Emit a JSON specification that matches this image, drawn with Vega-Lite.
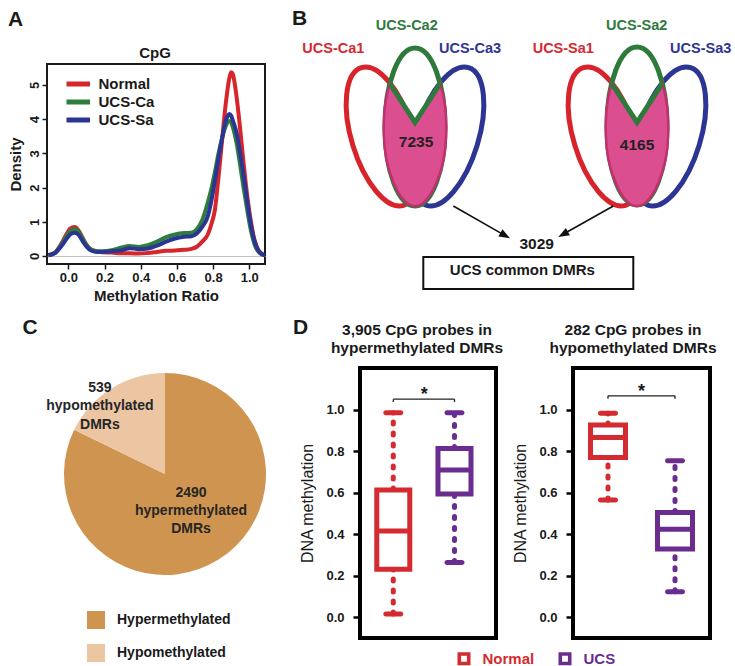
{
  "$schema": "https://vega.github.io/schema/vega-lite/v6.json",
  "background": "white",
  "padding": {"left": 6, "top": 7, "right": 0, "bottom": 0},
  "config": {
    "font": "Liberation Sans",
    "view": {"stroke": null},
    "axis": {"labelColor": "#1a1a1a", "titleColor": "#1a1a1a", "tickColor": "#1a1a1a", "labelFontWeight": "bold", "grid": false, "labelOverlap": false},
    "legend": {"labelColor": "#1a1a1a"},
    "title": {"color": "#1a1a1a"},
    "text": {"color": "#1a1a1a"}
  },
  "datasets": {
    "density": [
      {"sample":"Normal","ratio":-0.11,"density":0.02},{"sample":"Normal","ratio":-0.07,"density":0.12},{"sample":"Normal","ratio":-0.04,"density":0.35},{"sample":"Normal","ratio":-0.01,"density":0.64},{"sample":"Normal","ratio":0.01,"density":0.8},{"sample":"Normal","ratio":0.035,"density":0.85},{"sample":"Normal","ratio":0.06,"density":0.72},{"sample":"Normal","ratio":0.08,"density":0.52},{"sample":"Normal","ratio":0.1,"density":0.33},{"sample":"Normal","ratio":0.125,"density":0.19},{"sample":"Normal","ratio":0.16,"density":0.13},{"sample":"Normal","ratio":0.19,"density":0.11},{"sample":"Normal","ratio":0.24,"density":0.1},{"sample":"Normal","ratio":0.29,"density":0.08},{"sample":"Normal","ratio":0.34,"density":0.08},{"sample":"Normal","ratio":0.39,"density":0.07},{"sample":"Normal","ratio":0.44,"density":0.09},{"sample":"Normal","ratio":0.49,"density":0.12},{"sample":"Normal","ratio":0.54,"density":0.15},{"sample":"Normal","ratio":0.59,"density":0.16},{"sample":"Normal","ratio":0.64,"density":0.18},{"sample":"Normal","ratio":0.68,"density":0.21},{"sample":"Normal","ratio":0.71,"density":0.27},{"sample":"Normal","ratio":0.74,"density":0.42},{"sample":"Normal","ratio":0.77,"density":0.62},{"sample":"Normal","ratio":0.79,"density":0.92},{"sample":"Normal","ratio":0.81,"density":1.35},{"sample":"Normal","ratio":0.83,"density":2.3},{"sample":"Normal","ratio":0.85,"density":3.4},{"sample":"Normal","ratio":0.87,"density":4.45},{"sample":"Normal","ratio":0.89,"density":5.2},{"sample":"Normal","ratio":0.9,"density":5.37},{"sample":"Normal","ratio":0.91,"density":5.3},{"sample":"Normal","ratio":0.93,"density":4.65},{"sample":"Normal","ratio":0.95,"density":3.7},{"sample":"Normal","ratio":0.97,"density":2.65},{"sample":"Normal","ratio":0.99,"density":1.7},{"sample":"Normal","ratio":1.01,"density":0.98},{"sample":"Normal","ratio":1.03,"density":0.45},{"sample":"Normal","ratio":1.05,"density":0.18},{"sample":"Normal","ratio":1.07,"density":0.06},{"sample":"Normal","ratio":1.09,"density":0.02},
      {"sample":"UCS-Ca","ratio":-0.11,"density":0.02},{"sample":"UCS-Ca","ratio":-0.07,"density":0.11},{"sample":"UCS-Ca","ratio":-0.04,"density":0.32},{"sample":"UCS-Ca","ratio":-0.01,"density":0.58},{"sample":"UCS-Ca","ratio":0.01,"density":0.73},{"sample":"UCS-Ca","ratio":0.035,"density":0.78},{"sample":"UCS-Ca","ratio":0.06,"density":0.68},{"sample":"UCS-Ca","ratio":0.08,"density":0.5},{"sample":"UCS-Ca","ratio":0.1,"density":0.32},{"sample":"UCS-Ca","ratio":0.125,"density":0.19},{"sample":"UCS-Ca","ratio":0.16,"density":0.14},{"sample":"UCS-Ca","ratio":0.19,"density":0.14},{"sample":"UCS-Ca","ratio":0.24,"density":0.17},{"sample":"UCS-Ca","ratio":0.29,"density":0.24},{"sample":"UCS-Ca","ratio":0.34,"density":0.29},{"sample":"UCS-Ca","ratio":0.39,"density":0.26},{"sample":"UCS-Ca","ratio":0.44,"density":0.32},{"sample":"UCS-Ca","ratio":0.49,"density":0.42},{"sample":"UCS-Ca","ratio":0.54,"density":0.55},{"sample":"UCS-Ca","ratio":0.59,"density":0.63},{"sample":"UCS-Ca","ratio":0.64,"density":0.67},{"sample":"UCS-Ca","ratio":0.68,"density":0.68},{"sample":"UCS-Ca","ratio":0.71,"density":0.78},{"sample":"UCS-Ca","ratio":0.74,"density":1.05},{"sample":"UCS-Ca","ratio":0.77,"density":1.55},{"sample":"UCS-Ca","ratio":0.79,"density":1.95},{"sample":"UCS-Ca","ratio":0.81,"density":2.45},{"sample":"UCS-Ca","ratio":0.83,"density":3.0},{"sample":"UCS-Ca","ratio":0.85,"density":3.45},{"sample":"UCS-Ca","ratio":0.87,"density":3.8},{"sample":"UCS-Ca","ratio":0.89,"density":3.95},{"sample":"UCS-Ca","ratio":0.9,"density":3.9},{"sample":"UCS-Ca","ratio":0.91,"density":3.75},{"sample":"UCS-Ca","ratio":0.93,"density":3.3},{"sample":"UCS-Ca","ratio":0.95,"density":2.65},{"sample":"UCS-Ca","ratio":0.97,"density":1.95},{"sample":"UCS-Ca","ratio":0.99,"density":1.3},{"sample":"UCS-Ca","ratio":1.01,"density":0.72},{"sample":"UCS-Ca","ratio":1.03,"density":0.33},{"sample":"UCS-Ca","ratio":1.05,"density":0.13},{"sample":"UCS-Ca","ratio":1.07,"density":0.05},{"sample":"UCS-Ca","ratio":1.09,"density":0.02},
      {"sample":"UCS-Sa","ratio":-0.11,"density":0.02},{"sample":"UCS-Sa","ratio":-0.07,"density":0.1},{"sample":"UCS-Sa","ratio":-0.04,"density":0.28},{"sample":"UCS-Sa","ratio":-0.01,"density":0.5},{"sample":"UCS-Sa","ratio":0.01,"density":0.63},{"sample":"UCS-Sa","ratio":0.035,"density":0.68},{"sample":"UCS-Sa","ratio":0.06,"density":0.6},{"sample":"UCS-Sa","ratio":0.08,"density":0.43},{"sample":"UCS-Sa","ratio":0.1,"density":0.28},{"sample":"UCS-Sa","ratio":0.125,"density":0.16},{"sample":"UCS-Sa","ratio":0.16,"density":0.12},{"sample":"UCS-Sa","ratio":0.19,"density":0.12},{"sample":"UCS-Sa","ratio":0.24,"density":0.14},{"sample":"UCS-Sa","ratio":0.29,"density":0.16},{"sample":"UCS-Sa","ratio":0.34,"density":0.23},{"sample":"UCS-Sa","ratio":0.39,"density":0.2},{"sample":"UCS-Sa","ratio":0.44,"density":0.22},{"sample":"UCS-Sa","ratio":0.49,"density":0.3},{"sample":"UCS-Sa","ratio":0.54,"density":0.42},{"sample":"UCS-Sa","ratio":0.59,"density":0.51},{"sample":"UCS-Sa","ratio":0.64,"density":0.56},{"sample":"UCS-Sa","ratio":0.68,"density":0.58},{"sample":"UCS-Sa","ratio":0.71,"density":0.66},{"sample":"UCS-Sa","ratio":0.74,"density":0.85},{"sample":"UCS-Sa","ratio":0.77,"density":1.15},{"sample":"UCS-Sa","ratio":0.79,"density":1.6},{"sample":"UCS-Sa","ratio":0.81,"density":2.2},{"sample":"UCS-Sa","ratio":0.83,"density":2.85},{"sample":"UCS-Sa","ratio":0.85,"density":3.45},{"sample":"UCS-Sa","ratio":0.87,"density":3.95},{"sample":"UCS-Sa","ratio":0.89,"density":4.15},{"sample":"UCS-Sa","ratio":0.9,"density":4.1},{"sample":"UCS-Sa","ratio":0.91,"density":3.95},{"sample":"UCS-Sa","ratio":0.93,"density":3.6},{"sample":"UCS-Sa","ratio":0.95,"density":3.0},{"sample":"UCS-Sa","ratio":0.97,"density":2.3},{"sample":"UCS-Sa","ratio":0.99,"density":1.55},{"sample":"UCS-Sa","ratio":1.01,"density":0.88},{"sample":"UCS-Sa","ratio":1.03,"density":0.42},{"sample":"UCS-Sa","ratio":1.05,"density":0.16},{"sample":"UCS-Sa","ratio":1.07,"density":0.05},{"sample":"UCS-Sa","ratio":1.09,"density":0.02}
    ],
    "dmr": [
      {"category": "Hypermethylated", "count": 2490, "label": "2490\nhypermethylated\nDMRs"},
      {"category": "Hypomethylated", "count": 539, "label": "539\nhypomethylated\nDMRs"}
    ],
    "hyper": [
      {"group": "Normal", "lower": 0.015, "q1": 0.231, "median": 0.415, "q3": 0.612, "upper": 0.985},
      {"group": "UCS", "lower": 0.264, "q1": 0.593, "median": 0.709, "q3": 0.812, "upper": 0.985}
    ],
    "hypo": [
      {"group": "Normal", "lower": 0.565, "q1": 0.769, "median": 0.865, "q3": 0.925, "upper": 0.982},
      {"group": "UCS", "lower": 0.123, "q1": 0.328, "median": 0.424, "q3": 0.504, "upper": 0.753}
    ]
  },
  "spacing": 12,
  "resolve": {"scale": {"color": "independent", "fill": "independent", "stroke": "independent", "x": "independent", "y": "independent"}},
  "vconcat": [
    {
      "spacing": 24,
      "resolve": {"scale": {"color": "independent", "x": "independent", "y": "independent"}},
      "hconcat": [
        {
          "width": 218, "height": 200,
          "view": {"stroke": "#1a1a1a", "strokeWidth": 2},
          "title": {"text": "A", "anchor": "start", "frame": "bounds", "fontSize": 21, "fontWeight": "bold", "offset": 16},
          "layer": [
            {
              "data": {"name": "density"},
              "mark": {"type": "line", "strokeWidth": 4, "interpolate": "monotone", "clip": true},
              "encoding": {
                "x": {"field": "ratio", "type": "quantitative", "scale": {"domain": [-0.118, 1.087]},
                  "axis": {"values": [0, 0.2, 0.4, 0.6, 0.8, 1], "format": ".1f", "domain": false, "tickSize": 5, "tickWidth": 1.5, "labelFontSize": 13, "labelPadding": 2, "labelFlush": false, "title": "Methylation Ratio", "titleFontSize": 15, "titleFontWeight": "bold", "titlePadding": 4}},
                "y": {"field": "density", "type": "quantitative", "scale": {"domain": [-0.234, 5.614]},
                  "axis": {"values": [0, 1, 2, 3, 4, 5], "tickCount": 6, "domain": false, "tickSize": 5, "tickWidth": 1.5, "labelAngle": 270, "labelAlign": "center", "labelBaseline": "bottom", "labelOverlap": false, "labelSeparation": -30, "labelFontSize": 13, "labelPadding": 1, "title": "Density", "titleFontSize": 15, "titleFontWeight": "bold", "titlePadding": 5,
                    "grid": true, "gridColor": "#c4c4c4", "gridWidth": 1, "gridOpacity": {"condition": {"test": "datum.value === 0", "value": 1}, "value": 0}}},
                "color": {"field": "sample", "type": "nominal",
                  "scale": {"domain": ["Normal", "UCS-Ca", "UCS-Sa"], "range": ["#d7262b", "#2e7d3d", "#2b3593"]},
                  "legend": {"orient": "none", "legendX": 19.5, "legendY": 12, "title": null, "padding": 0, "symbolType": "M-4,0L4,0", "symbolSize": 64, "symbolStrokeWidth": 5, "labelFontSize": 15, "labelFontWeight": "bold", "labelOffset": 17, "clipHeight": 16, "rowPadding": 2}}
              }
            },
            {
              "data": {"values": [{"context": "CpG"}]},
              "mark": {"type": "text", "fontSize": 15, "fontWeight": "bold"},
              "encoding": {
                "x": {"datum": 0.479, "type": "quantitative", "scale": {"domain": [-0.118, 1.087]}},
                "y": {"datum": 5.94, "type": "quantitative", "scale": {"domain": [-0.234, 5.614]}},
                "text": {"field": "context"}
              }
            }
          ]
        },
        {
          "width": 440, "height": 225,
          "data": {"values": [{"panel": "B"}]},
          "layer": [
            {"mark": {"type": "point", "shape": "M0,-1C0.2375,-1,0.43,-0.5523,0.43,0C0.43,0.5523,0.2375,1,0,1C-0.2375,1,-0.43,0.5523,-0.43,0C-0.43,-0.5523,-0.2375,-1,0,-1Z", "size": 20736, "angle": -17, "filled": false, "stroke": "#d8232a", "strokeWidth": 5, "opacity": 1},
             "encoding": {"x": {"datum": 9.25, "type": "quantitative", "scale": {"domain": [0, 44]}, "axis": null}, "y": {"datum": 15.25, "type": "quantitative", "scale": {"domain": [0, 22.5]}, "axis": null}}},
            {"mark": {"type": "point", "shape": "M0,-1C0.2375,-1,0.43,-0.5523,0.43,0C0.43,0.5523,0.2375,1,0,1C-0.2375,1,-0.43,0.5523,-0.43,0C-0.43,-0.5523,-0.2375,-1,0,-1Z", "size": 20736, "angle": -17, "filled": false, "stroke": "#d8232a", "strokeWidth": 5, "opacity": 1},
             "encoding": {"x": {"datum": 31.45, "type": "quantitative", "scale": {"domain": [0, 44]}, "axis": null}, "y": {"datum": 15.25, "type": "quantitative", "scale": {"domain": [0, 22.5]}, "axis": null}}},
            {"mark": {"type": "point", "shape": "M0,-1C0.2375,-1,0.43,-0.5523,0.43,0C0.43,0.5523,0.2375,1,0,1C-0.2375,1,-0.43,0.5523,-0.43,0C-0.43,-0.5523,-0.2375,-1,0,-1Z", "size": 20736, "angle": 17, "filled": false, "stroke": "#2c3593", "strokeWidth": 5, "opacity": 1},
             "encoding": {"x": {"datum": 15.75, "type": "quantitative", "scale": {"domain": [0, 44]}, "axis": null}, "y": {"datum": 15.25, "type": "quantitative", "scale": {"domain": [0, 22.5]}, "axis": null}}},
            {"mark": {"type": "point", "shape": "M0,-1C0.2375,-1,0.43,-0.5523,0.43,0C0.43,0.5523,0.2375,1,0,1C-0.2375,1,-0.43,0.5523,-0.43,0C-0.43,-0.5523,-0.2375,-1,0,-1Z", "size": 20736, "angle": 17, "filled": false, "stroke": "#2c3593", "strokeWidth": 5, "opacity": 1},
             "encoding": {"x": {"datum": 37.95, "type": "quantitative", "scale": {"domain": [0, 44]}, "axis": null}, "y": {"datum": 15.25, "type": "quantitative", "scale": {"domain": [0, 22.5]}, "axis": null}}},
            {"mark": {"type": "point", "shape": "M0,-1C0.21,-1,0.38,-0.5523,0.38,0C0.38,0.5523,0.21,1,0,1C-0.21,1,-0.38,0.5523,-0.38,0C-0.38,-0.5523,-0.21,-1,0,-1Z", "size": 24964, "filled": false, "stroke": "#2d7a3b", "strokeWidth": 5, "opacity": 1},
             "encoding": {"x": {"datum": 12.5, "type": "quantitative", "scale": {"domain": [0, 44]}, "axis": null}, "y": {"datum": 16.2, "type": "quantitative", "scale": {"domain": [0, 22.5]}, "axis": null}}},
            {"mark": {"type": "point", "shape": "M0,-1C0.21,-1,0.38,-0.5523,0.38,0C0.38,0.5523,0.21,1,0,1C-0.21,1,-0.38,0.5523,-0.38,0C-0.38,-0.5523,-0.21,-1,0,-1Z", "size": 24964, "filled": false, "stroke": "#2d7a3b", "strokeWidth": 5, "opacity": 1},
             "encoding": {"x": {"datum": 34.7, "type": "quantitative", "scale": {"domain": [0, 44]}, "axis": null}, "y": {"datum": 16.3, "type": "quantitative", "scale": {"domain": [0, 22.5]}, "axis": null}}},
            {"mark": {"type": "point", "shape": "M-0.41,-1L0,-0.37L0.41,-1C0.5,-0.75,0.52,-0.45,0.51,-0.15C0.5,0.4,0.25,1,0,1C-0.25,1,-0.5,0.4,-0.51,-0.15C-0.52,-0.45,-0.5,-0.75,-0.41,-1Z", "size": 14884, "filled": true, "fill": "#db4f91", "stroke": "#c42f6e", "strokeWidth": 2.5, "opacity": 1},
             "encoding": {"x": {"datum": 12.5, "type": "quantitative", "scale": {"domain": [0, 44]}, "axis": null}, "y": {"datum": 14.4, "type": "quantitative", "scale": {"domain": [0, 22.5]}, "axis": null}}},
            {"mark": {"type": "point", "shape": "M-0.41,-1L0,-0.37L0.41,-1C0.5,-0.75,0.52,-0.45,0.51,-0.15C0.5,0.4,0.25,1,0,1C-0.25,1,-0.5,0.4,-0.51,-0.15C-0.52,-0.45,-0.5,-0.75,-0.41,-1Z", "size": 14884, "filled": true, "fill": "#db4f91", "stroke": "#c42f6e", "strokeWidth": 2.5, "opacity": 1},
             "encoding": {"x": {"datum": 34.7, "type": "quantitative", "scale": {"domain": [0, 44]}, "axis": null}, "y": {"datum": 14.4, "type": "quantitative", "scale": {"domain": [0, 22.5]}, "axis": null}}},
            {"mark": {"type": "point", "shape": "M-0.41,-1L0,-0.37L0.41,-1", "size": 14884, "filled": false, "stroke": "#2d7a3b", "strokeWidth": 5, "strokeJoin": "miter", "opacity": 1},
             "encoding": {"x": {"datum": 12.5, "type": "quantitative", "scale": {"domain": [0, 44]}, "axis": null}, "y": {"datum": 14.4, "type": "quantitative", "scale": {"domain": [0, 22.5]}, "axis": null}}},
            {"mark": {"type": "point", "shape": "M-0.41,-1L0,-0.37L0.41,-1", "size": 14884, "filled": false, "stroke": "#2d7a3b", "strokeWidth": 5, "strokeJoin": "miter", "opacity": 1},
             "encoding": {"x": {"datum": 34.7, "type": "quantitative", "scale": {"domain": [0, 44]}, "axis": null}, "y": {"datum": 14.4, "type": "quantitative", "scale": {"domain": [0, 22.5]}, "axis": null}}},
            {"data": {"values": [{"overlap": "UCS-Ca1/2/3", "count": 7235}]},
             "mark": {"type": "text", "fontSize": 15.5, "fontWeight": "bold", "color": "#222222"},
             "encoding": {"x": {"datum": 12.6, "type": "quantitative", "scale": {"domain": [0, 44]}, "axis": null}, "y": {"datum": 14.7, "type": "quantitative", "scale": {"domain": [0, 22.5]}, "axis": null}, "text": {"field": "count"}}},
            {"data": {"values": [{"overlap": "UCS-Sa1/2/3", "count": 4165}]},
             "mark": {"type": "text", "fontSize": 15.5, "fontWeight": "bold", "color": "#222222"},
             "encoding": {"x": {"datum": 34.7, "type": "quantitative", "scale": {"domain": [0, 44]}, "axis": null}, "y": {"datum": 14.4, "type": "quantitative", "scale": {"domain": [0, 22.5]}, "axis": null}, "text": {"field": "count"}}},
            {"data": {"values": [{"sample": "UCS-Ca1"}]},
             "mark": {"type": "text", "fontSize": 14.5, "fontWeight": "bold", "color": "#d42a30"},
             "encoding": {"x": {"datum": 4.33, "type": "quantitative", "scale": {"domain": [0, 44]}, "axis": null}, "y": {"datum": 24.03, "type": "quantitative", "scale": {"domain": [0, 22.5]}, "axis": null}, "text": {"field": "sample"}}},
            {"data": {"values": [{"sample": "UCS-Ca2"}]},
             "mark": {"type": "text", "fontSize": 14.5, "fontWeight": "bold", "color": "#2f7a3c"},
             "encoding": {"x": {"datum": 11.67, "type": "quantitative", "scale": {"domain": [0, 44]}, "axis": null}, "y": {"datum": 26.3, "type": "quantitative", "scale": {"domain": [0, 22.5]}, "axis": null}, "text": {"field": "sample"}}},
            {"data": {"values": [{"sample": "UCS-Ca3"}]},
             "mark": {"type": "text", "fontSize": 14.5, "fontWeight": "bold", "color": "#2e3592"},
             "encoding": {"x": {"datum": 18.0, "type": "quantitative", "scale": {"domain": [0, 44]}, "axis": null}, "y": {"datum": 24.03, "type": "quantitative", "scale": {"domain": [0, 22.5]}, "axis": null}, "text": {"field": "sample"}}},
            {"data": {"values": [{"sample": "UCS-Sa1"}]},
             "mark": {"type": "text", "fontSize": 14.5, "fontWeight": "bold", "color": "#d42a30"},
             "encoding": {"x": {"datum": 27.33, "type": "quantitative", "scale": {"domain": [0, 44]}, "axis": null}, "y": {"datum": 24.03, "type": "quantitative", "scale": {"domain": [0, 22.5]}, "axis": null}, "text": {"field": "sample"}}},
            {"data": {"values": [{"sample": "UCS-Sa2"}]},
             "mark": {"type": "text", "fontSize": 14.5, "fontWeight": "bold", "color": "#2f7a3c"},
             "encoding": {"x": {"datum": 34.67, "type": "quantitative", "scale": {"domain": [0, 44]}, "axis": null}, "y": {"datum": 26.3, "type": "quantitative", "scale": {"domain": [0, 22.5]}, "axis": null}, "text": {"field": "sample"}}},
            {"data": {"values": [{"sample": "UCS-Sa3"}]},
             "mark": {"type": "text", "fontSize": 14.5, "fontWeight": "bold", "color": "#2e3592"},
             "encoding": {"x": {"datum": 41.07, "type": "quantitative", "scale": {"domain": [0, 44]}, "axis": null}, "y": {"datum": 24.03, "type": "quantitative", "scale": {"domain": [0, 22.5]}, "axis": null}, "text": {"field": "sample"}}},
            {"mark": {"type": "rule", "color": "#111111", "strokeWidth": 1.6},
             "encoding": {"x": {"datum": 16.33, "type": "quantitative", "scale": {"domain": [0, 44]}, "axis": null}, "x2": {"datum": 21.52}, "y": {"datum": 8.3, "type": "quantitative", "scale": {"domain": [0, 22.5]}, "axis": null}, "y2": {"datum": 5.34}}},
            {"mark": {"type": "rule", "color": "#111111", "strokeWidth": 1.6},
             "encoding": {"x": {"datum": 32.33, "type": "quantitative", "scale": {"domain": [0, 44]}, "axis": null}, "x2": {"datum": 27.31}, "y": {"datum": 8.3, "type": "quantitative", "scale": {"domain": [0, 22.5]}, "axis": null}, "y2": {"datum": 5.47}}},
            {"mark": {"type": "point", "shape": "M0,-1L0.75,1L-0.75,1Z", "size": 121, "angle": 119.7, "filled": true, "color": "#111111", "opacity": 1},
             "encoding": {"x": {"datum": 21.52, "type": "quantitative", "scale": {"domain": [0, 44]}, "axis": null}, "y": {"datum": 5.34, "type": "quantitative", "scale": {"domain": [0, 22.5]}, "axis": null}}},
            {"mark": {"type": "point", "shape": "M0,-1L0.75,1L-0.75,1Z", "size": 121, "angle": 240.6, "filled": true, "color": "#111111", "opacity": 1},
             "encoding": {"x": {"datum": 27.31, "type": "quantitative", "scale": {"domain": [0, 44]}, "axis": null}, "y": {"datum": 5.47, "type": "quantitative", "scale": {"domain": [0, 22.5]}, "axis": null}}},
            {"data": {"values": [{"overlap": "UCS common", "count": 3029}]},
             "mark": {"type": "text", "fontSize": 15.5, "fontWeight": "bold", "color": "#1a1a1a"},
             "encoding": {"x": {"datum": 24.67, "type": "quantitative", "scale": {"domain": [0, 44]}, "axis": null}, "y": {"datum": 4.47, "type": "quantitative", "scale": {"domain": [0, 22.5]}, "axis": null}, "text": {"field": "count"}}},
            {"mark": {"type": "rect", "fill": "white", "fillOpacity": 0, "stroke": "#111111", "strokeWidth": 2},
             "encoding": {"x": {"datum": 13.33, "type": "quantitative", "scale": {"domain": [0, 44]}, "axis": null}, "x2": {"datum": 34.33}, "y": {"datum": 0.0, "type": "quantitative", "scale": {"domain": [0, 22.5]}, "axis": null}, "y2": {"datum": 3.2}}},
            {"data": {"values": [{"name": "UCS common DMRs"}]},
             "mark": {"type": "text", "fontSize": 15, "fontWeight": "bold", "color": "#1a1a1a"},
             "encoding": {"x": {"datum": 23.23, "type": "quantitative", "scale": {"domain": [0, 44]}, "axis": null}, "y": {"datum": 1.87, "type": "quantitative", "scale": {"domain": [0, 22.5]}, "axis": null}, "text": {"field": "name"}}},
            {"mark": {"type": "text", "fontSize": 21, "fontWeight": "bold", "color": "#1a1a1a"},
             "encoding": {"x": {"datum": 0.97, "type": "quantitative", "scale": {"domain": [0, 44]}, "axis": null}, "y": {"datum": 27.05, "type": "quantitative", "scale": {"domain": [0, 22.5]}, "axis": null}, "text": {"field": "panel"}}}
          ]
        }
      ]
    },
    {
      "spacing": -12,
      "resolve": {"scale": {"color": "independent", "fill": "independent", "stroke": "independent", "x": "independent", "y": "independent"}},
      "hconcat": [
        {
          "width": 236, "height": 212,
          "data": {"name": "dmr"},
          "layer": [
            {
              "mark": {"type": "arc", "outerRadius": 101},
              "encoding": {
                "theta": {"field": "count", "type": "quantitative", "stack": true},
                "order": {"field": "category"},
                "fill": {"field": "category", "type": "nominal",
                  "scale": {"domain": ["Hypermethylated", "Hypomethylated"], "range": ["#cf9550", "#ecc5a3"]},
                  "legend": {"orient": "none", "legendX": 40, "legendY": 243, "title": null, "padding": 0, "symbolType": "square", "symbolSize": 324, "symbolStrokeWidth": 0, "labelFontSize": 14, "labelFontWeight": "bold", "labelOffset": 12, "rowPadding": 15,
                    "encode": {"symbols": {"update": {"fill": {"signal": "datum.value === 'Hypermethylated' ? '#e6aa4b' : '#f6dab4'"}, "strokeWidth": {"value": 0}}}}}}
              }
            },
            {
              "mark": {"type": "text", "radius": 107.8, "thetaOffset": -0.089, "fontSize": 14, "fontWeight": "bold", "lineBreak": "\n", "lineHeight": 18.3, "color": "#262626"},
              "encoding": {
                "theta": {"field": "count", "type": "quantitative", "stack": true},
                "order": {"field": "category"},
                "detail": {"field": "category"},
                "text": {"condition": {"test": "datum.category === 'Hypomethylated'", "field": "label"}, "value": ""}
              }
            },
            {
              "mark": {"type": "text", "radius": 32, "thetaOffset": -0.389, "fontSize": 14, "fontWeight": "bold", "lineBreak": "\n", "lineHeight": 18.3, "color": "#262626"},
              "encoding": {
                "theta": {"field": "count", "type": "quantitative", "stack": true},
                "order": {"field": "category"},
                "detail": {"field": "category"},
                "text": {"condition": {"test": "datum.category === 'Hypermethylated'", "field": "label"}, "value": ""}
              }
            },
            {
              "data": {"values": [{"panel": "C"}]},
              "mark": {"type": "text", "fontSize": 21, "fontWeight": "bold"},
              "encoding": {
                "x": {"datum": -0.072, "type": "quantitative", "scale": {"domain": [0, 1]}, "axis": null},
                "y": {"datum": 1.189, "type": "quantitative", "scale": {"domain": [0, 1]}, "axis": null},
                "text": {"field": "panel"}
              }
            },
            {
              "data": {"values": [{"panel": "D"}]},
              "mark": {"type": "text", "fontSize": 21, "fontWeight": "bold"},
              "encoding": {
                "x": {"datum": 1.074, "type": "quantitative", "scale": {"domain": [0, 1]}, "axis": null},
                "y": {"datum": 1.189, "type": "quantitative", "scale": {"domain": [0, 1]}, "axis": null},
                "text": {"field": "panel"}
              }
            }
          ]
        },
        {
          "spacing": 4,
          "resolve": {"scale": {"x": "independent", "y": "independent", "color": "shared", "stroke": "shared"}},
          "hconcat": [
            {
              "width": 136, "height": 270,
              "view": {"stroke": "#000000", "strokeWidth": 4},
              "title": {"text": ["3,905 CpG probes in", "hypermethylated DMRs"], "fontSize": 15.5, "fontWeight": "bold", "lineHeight": 18, "anchor": "middle", "frame": "group", "dx": -11, "offset": 12},
              "data": {"name": "hyper"},
              "layer": [
                {"mark": {"type": "rule", "strokeWidth": 5, "strokeDash": [2, 9], "strokeCap": "round"},
                 "encoding": {
                   "x": {"field": "group", "type": "nominal", "scale": {"type": "point", "domain": ["Normal", "UCS"], "padding": 0.611, "align": 0.445}, "axis": null},
                   "y": {"field": "lower", "type": "quantitative", "scale": {"domain": [-0.046, 1.143]},
                     "axis": {"values": [0, 0.2, 0.4, 0.6, 0.8, 1], "format": ".1f", "domain": false, "offset": 2, "tickSize": 5, "tickWidth": 2.5, "tickColor": "#000000", "labelFontSize": 13, "labelPadding": 9, "title": "DNA methylation", "titleFontSize": 16, "titleFontWeight": "normal", "titlePadding": 10}},
                   "y2": {"field": "q1"},
                   "color": {"field": "group", "type": "nominal", "scale": {"domain": ["Normal", "UCS"], "range": ["#d42a30", "#6a2c8f"]},
                     "legend": {"orient": "none", "legendX": 96.5, "legendY": 283, "direction": "horizontal", "title": null, "padding": 0, "symbolType": "M-1,-1L1,-1L1,1L-1,1ZM-0.45,-0.45L-0.45,0.45L0.45,0.45L0.45,-0.45Z", "symbolSize": 169, "symbolStrokeWidth": 0, "labelFontSize": 15, "labelFontWeight": "bold", "labelOffset": 11, "columnPadding": 23,
                       "encode": {"labels": {"update": {"fill": {"signal": "datum.value === 'Normal' ? '#d42a30' : '#6a2c8f'"}}}}}}
                 }},
                {"mark": {"type": "rule", "strokeWidth": 5, "strokeDash": [2, 9], "strokeCap": "round"},
                 "encoding": {"x": {"field": "group", "type": "nominal", "axis": null}, "y": {"field": "q3", "type": "quantitative"}, "y2": {"field": "upper"}, "color": {"field": "group", "type": "nominal"}}},
                {"mark": {"type": "tick", "thickness": 5, "size": 20, "cornerRadius": 2.5, "opacity": 1},
                 "encoding": {"x": {"field": "group", "type": "nominal", "axis": null}, "y": {"field": "lower", "type": "quantitative"}, "color": {"field": "group", "type": "nominal"}}},
                {"mark": {"type": "tick", "thickness": 5, "size": 20, "cornerRadius": 2.5, "opacity": 1},
                 "encoding": {"x": {"field": "group", "type": "nominal", "axis": null}, "y": {"field": "upper", "type": "quantitative"}, "color": {"field": "group", "type": "nominal"}}},
                {"mark": {"type": "bar", "size": 33, "fill": "white", "strokeWidth": 5, "opacity": 1},
                 "encoding": {"x": {"field": "group", "type": "nominal", "axis": null}, "y": {"field": "q1", "type": "quantitative"}, "y2": {"field": "q3"},
                   "stroke": {"field": "group", "type": "nominal", "scale": {"domain": ["Normal", "UCS"], "range": ["#d42a30", "#6a2c8f"]}, "legend": null}}},
                {"mark": {"type": "tick", "thickness": 5, "size": 33, "opacity": 1},
                 "encoding": {"x": {"field": "group", "type": "nominal", "axis": null}, "y": {"field": "median", "type": "quantitative"}, "color": {"field": "group", "type": "nominal"}}},
                {"data": {"values": [{"comparison": "Normal vs UCS"}]},
                 "mark": {"type": "rule", "color": "#222222", "strokeWidth": 1.3},
                 "encoding": {"x": {"datum": "Normal", "type": "nominal", "axis": null}, "x2": {"datum": "UCS"}, "y": {"datum": 1.05, "type": "quantitative"}}},
                {"data": {"values": [{"comparison": "Normal vs UCS"}]},
                 "mark": {"type": "rule", "color": "#222222", "strokeWidth": 1.3},
                 "encoding": {"x": {"datum": "Normal", "type": "nominal", "axis": null}, "y": {"datum": 1.05, "type": "quantitative"}, "y2": {"datum": 1.036}}},
                {"data": {"values": [{"comparison": "Normal vs UCS"}]},
                 "mark": {"type": "rule", "color": "#222222", "strokeWidth": 1.3},
                 "encoding": {"x": {"datum": "UCS", "type": "nominal", "axis": null}, "y": {"datum": 1.05, "type": "quantitative"}, "y2": {"datum": 1.036}}},
                {"data": {"values": [{"significance": "*"}]},
                 "mark": {"type": "text", "fontSize": 18, "fontWeight": "bold", "dx": 31, "color": "#1a1a1a"},
                 "encoding": {"x": {"datum": "Normal", "type": "nominal", "axis": null}, "y": {"datum": 1.07, "type": "quantitative"}, "text": {"field": "significance"}}}
              ]
            },
            {
              "width": 137, "height": 270,
              "view": {"stroke": "#000000", "strokeWidth": 4},
              "title": {"text": ["282 CpG probes in", "hypomethylated DMRs"], "fontSize": 15.5, "fontWeight": "bold", "lineHeight": 18, "anchor": "middle", "frame": "group", "dx": -8.5, "offset": 12},
              "data": {"name": "hypo"},
              "layer": [
                {"mark": {"type": "rule", "strokeWidth": 5, "strokeDash": [2, 9], "strokeCap": "round"},
                 "encoding": {
                   "x": {"field": "group", "type": "nominal", "scale": {"type": "point", "domain": ["Normal", "UCS"], "padding": 0.522, "align": 0.5}, "axis": null},
                   "y": {"field": "lower", "type": "quantitative", "scale": {"domain": [-0.044, 1.145]},
                     "axis": {"values": [0, 0.2, 0.4, 0.6, 0.8, 1], "format": ".1f", "domain": false, "offset": 2, "tickSize": 5, "tickWidth": 2.5, "tickColor": "#000000", "labelFontSize": 13, "labelPadding": 9, "title": "DNA methylation", "titleFontSize": 16, "titleFontWeight": "normal", "titlePadding": 10}},
                   "y2": {"field": "q1"},
                   "color": {"field": "group", "type": "nominal"}
                 }},
                {"mark": {"type": "rule", "strokeWidth": 5, "strokeDash": [2, 9], "strokeCap": "round"},
                 "encoding": {"x": {"field": "group", "type": "nominal", "axis": null}, "y": {"field": "q3", "type": "quantitative"}, "y2": {"field": "upper"}, "color": {"field": "group", "type": "nominal"}}},
                {"mark": {"type": "tick", "thickness": 5, "size": 20, "cornerRadius": 2.5, "opacity": 1},
                 "encoding": {"x": {"field": "group", "type": "nominal", "axis": null}, "y": {"field": "lower", "type": "quantitative"}, "color": {"field": "group", "type": "nominal"}}},
                {"mark": {"type": "tick", "thickness": 5, "size": 20, "cornerRadius": 2.5, "opacity": 1},
                 "encoding": {"x": {"field": "group", "type": "nominal", "axis": null}, "y": {"field": "upper", "type": "quantitative"}, "color": {"field": "group", "type": "nominal"}}},
                {"mark": {"type": "bar", "size": 35, "fill": "white", "strokeWidth": 5, "opacity": 1},
                 "encoding": {"x": {"field": "group", "type": "nominal", "axis": null}, "y": {"field": "q1", "type": "quantitative"}, "y2": {"field": "q3"},
                   "stroke": {"field": "group", "type": "nominal", "legend": null}}},
                {"mark": {"type": "tick", "thickness": 5, "size": 35, "opacity": 1},
                 "encoding": {"x": {"field": "group", "type": "nominal", "axis": null}, "y": {"field": "median", "type": "quantitative"}, "color": {"field": "group", "type": "nominal"}}},
                {"data": {"values": [{"comparison": "Normal vs UCS"}]},
                 "mark": {"type": "rule", "color": "#222222", "strokeWidth": 1.3},
                 "encoding": {"x": {"datum": "Normal", "type": "nominal", "axis": null}, "x2": {"datum": "UCS"}, "y": {"datum": 1.066, "type": "quantitative"}}},
                {"data": {"values": [{"comparison": "Normal vs UCS"}]},
                 "mark": {"type": "rule", "color": "#222222", "strokeWidth": 1.3},
                 "encoding": {"x": {"datum": "Normal", "type": "nominal", "axis": null}, "y": {"datum": 1.066, "type": "quantitative"}, "y2": {"datum": 1.052}}},
                {"data": {"values": [{"comparison": "Normal vs UCS"}]},
                 "mark": {"type": "rule", "color": "#222222", "strokeWidth": 1.3},
                 "encoding": {"x": {"datum": "UCS", "type": "nominal", "axis": null}, "y": {"datum": 1.066, "type": "quantitative"}, "y2": {"datum": 1.052}}},
                {"data": {"values": [{"significance": "*"}]},
                 "mark": {"type": "text", "fontSize": 18, "fontWeight": "bold", "dx": 33.5, "color": "#1a1a1a"},
                 "encoding": {"x": {"datum": "Normal", "type": "nominal", "axis": null}, "y": {"datum": 1.086, "type": "quantitative"}, "text": {"field": "significance"}}}
              ]
            }
          ]
        }
      ]
    }
  ]
}
